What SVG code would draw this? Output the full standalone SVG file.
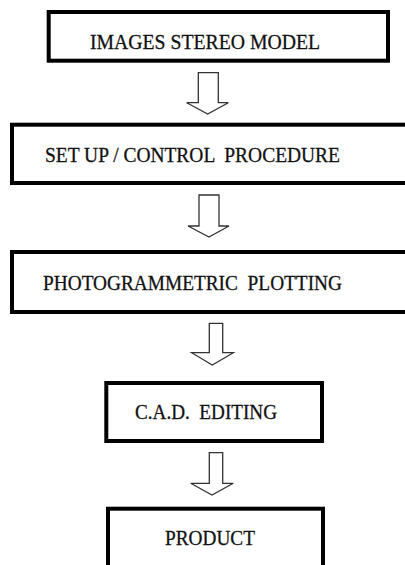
<svg xmlns="http://www.w3.org/2000/svg" width="405" height="565" viewBox="0 0 405 565">
<style>
.box{fill:#fff;stroke:#000;stroke-width:4}
.lbl{font-family:'Liberation Serif','Times New Roman','DejaVu Serif',serif;font-size:22px;fill:#111;stroke:#111;stroke-width:0.3}
.arr{fill:#fff;stroke:#333;stroke-width:1.3;stroke-linejoin:miter}
</style>
<rect width="405" height="565" fill="#fff"/>
<g id="connectors">
<path class="arr" d="M198.3,72.7 H218.3 V102.7 H228.3 L207.7,114 L186.7,102.7 H198.3 Z"/>
<path class="arr" d="M199,195 H219 V226 H229 L209,237 L188,226 H199 Z"/>
<path class="arr" d="M209.3,323.3 H222.7 V352.7 H233.3 L212.3,365 L191.7,352.7 H209.3 Z"/>
<path class="arr" d="M209.3,452.7 H222.7 V483.3 H233.3 L212,495 L190.7,483.3 H209.3 Z"/>
</g>
<g id="node1">
<rect class="box" x="48.7" y="12" width="339.3" height="48.7"/>
<text class="lbl" x="90" y="48.5" textLength="230" lengthAdjust="spacingAndGlyphs">IMAGES STEREO MODEL</text>
</g>
<g id="node2">
<rect class="box" x="12" y="124.7" width="410" height="58.3"/>
<text class="lbl" x="45" y="162" textLength="295" lengthAdjust="spacingAndGlyphs" xml:space="preserve">SET UP / CONTROL  PROCEDURE</text>
</g>
<g id="node3">
<rect class="box" x="12" y="252" width="410" height="60"/>
<text class="lbl" x="43" y="289.5" textLength="299" lengthAdjust="spacingAndGlyphs" xml:space="preserve">PHOTOGRAMMETRIC  PLOTTING</text>
</g>
<g id="node4">
<rect class="box" x="106.3" y="383" width="215.7" height="58"/>
<text class="lbl" x="135" y="418.5" textLength="142" lengthAdjust="spacingAndGlyphs" xml:space="preserve">C.A.D.  EDITING</text>
</g>
<g id="node5">
<rect class="box" x="108" y="508.7" width="215" height="100"/>
<text class="lbl" x="165" y="545" textLength="90" lengthAdjust="spacingAndGlyphs">PRODUCT</text>
</g>
</svg>
